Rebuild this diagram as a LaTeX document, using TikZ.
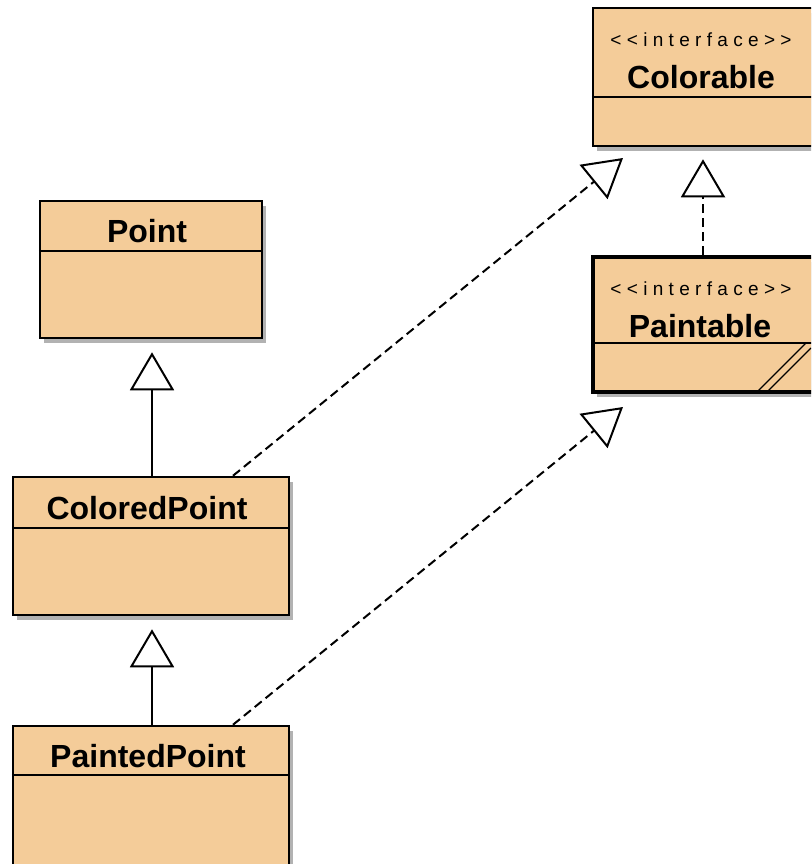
\documentclass[tikz,border=0pt]{standalone}
\usepackage{fontspec}
\setmainfont{Liberation Sans}
\newfontfamily\stereofont[LetterSpace=28]{Liberation Sans}
\usetikzlibrary{arrows.meta,shadows}
\definecolor{classfill}{HTML}{F4CC99}
\tikzset{
  umlclass/.style={draw=black, line width=2.5pt, fill=classfill, inner sep=0pt,
    drop shadow={shadow xshift=4pt, shadow yshift=-5pt, fill=black, opacity=0.3}},
  activeclass/.style={umlclass, line width=4pt},
  classname/.style={font=\bfseries\fontsize{32}{32}\selectfont, inner sep=0pt},
  stereotype/.style={font=\stereofont\fontsize{19}{19}\selectfont, inner sep=0pt},
  divider/.style={line width=1.6pt},
  extends/.style={line width=2pt, -{Triangle[open, length=38pt, width=44pt, line width=2pt]}},
  implements/.style={extends, dash pattern=on 9pt off 5pt},
  grip/.style={line width=1.2pt}
}
\begin{document}
\begin{tikzpicture}[x=1pt, y=-1pt]
\useasboundingbox (0,0) rectangle (811,864);
\clip (0,0) rectangle (811,864);

% interfaces
\node[umlclass, minimum width=228pt, minimum height=138pt] (colorable) at (707,77) {};
\node[stereotype] (colorableStereo) at (701,40) {<<interface>>};
\node[classname] (colorableName) at (701,77) {Colorable};
\draw[divider] (colorable.west |- 0,97) -- (colorable.east |- 0,97);

\node[activeclass, minimum width=228pt, minimum height=135pt] (paintable) at (707,324.5) {};
\node[stereotype] (paintableStereo) at (701,289) {<<interface>>};
\node[classname] (paintableName) at (700,326) {Paintable};
\draw[divider] (paintable.west |- 0,343) -- (paintable.east |- 0,343);
\draw[grip] (758,391) -- (806,343);
\draw[grip] (768,391) -- (811,348);

% classes
\node[umlclass, minimum width=222pt, minimum height=137pt] (point) at (151,269.5) {};
\node[classname] (pointName) at (147,231) {Point};
\draw[divider] (point.west |- 0,251) -- (point.east |- 0,251);

\node[umlclass, minimum width=276pt, minimum height=138pt] (colored) at (151,546) {};
\node[classname] (coloredName) at (147,508) {ColoredPoint};
\draw[divider] (colored.west |- 0,528) -- (colored.east |- 0,528);

\node[umlclass, minimum width=276pt, minimum height=180pt] (painted) at (151,816) {};
\node[classname] (paintedName) at (148,756) {PaintedPoint};
\draw[divider] (painted.west |- 0,775) -- (painted.east |- 0,775);

% connector end points
\coordinate (coloredTop) at (colored.north -| 233,0);
\coordinate (paintedTop) at (painted.north -| 233,0);
\coordinate (colorableTip) at (623,158);
\coordinate (paintableTip) at (623,407);

% generalisation
\draw[extends] (colored.north -| 152,0) -- ([yshift=-13pt]point.south -| 152,0);
\draw[extends] (painted.north -| 152,0) -- ([yshift=-13pt]colored.south -| 152,0);
\draw[implements] (paintable.north -| 703,0) -- ([yshift=-12pt]colorable.south -| 703,0);

% realisation
\draw[implements] (coloredTop) -- (colorableTip);
\draw[implements] (paintedTop) -- (paintableTip);
\end{tikzpicture}
\end{document}
